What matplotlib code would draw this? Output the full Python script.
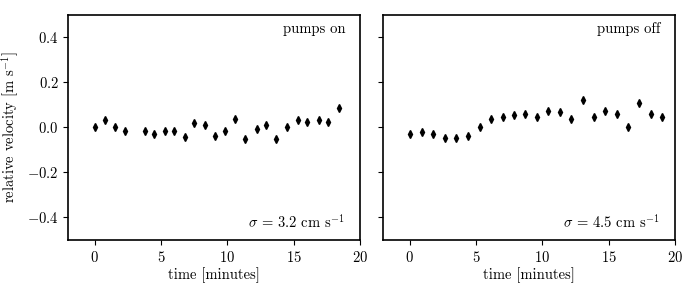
import matplotlib
matplotlib.use("Agg")
import matplotlib.pyplot as plt
import numpy as np

plt.rcParams['font.family'] = 'serif'
plt.rcParams['font.serif'] = ['cmr10']
plt.rcParams['mathtext.fontset'] = 'cm'
plt.rcParams['axes.formatter.use_mathtext'] = True
plt.rcParams['font.size'] = 10.5

# pumps on
t_on = [0.0, 0.76, 1.5, 2.27, 3.8, 4.5, 5.3, 6.0, 6.8, 7.5, 8.3, 9.1,
        9.8, 10.6, 11.3, 12.2, 12.9, 13.7, 14.5, 15.3, 16.0, 16.9, 17.6, 18.4]
v_on = [0.0, 0.033, 0.003, -0.016, -0.016, -0.031, -0.016, -0.018, -0.044,
        0.018, 0.010, -0.038, -0.015, 0.037, -0.053, -0.009, 0.009, -0.053,
        0.003, 0.033, 0.022, 0.033, 0.022, 0.087]

# pumps off
t_off = [0.0, 0.89, 1.78, 2.67, 3.5, 4.4, 5.27, 6.14, 7.0, 7.87, 8.7, 9.6,
         10.45, 11.3, 12.2, 13.05, 13.9, 14.75, 15.6, 16.45, 17.3, 18.2, 19.05]
v_off = [-0.028, -0.021, -0.030, -0.049, -0.046, -0.037, 0.0, 0.038, 0.046,
         0.053, 0.061, 0.044, 0.073, 0.067, 0.037, 0.120, 0.044, 0.073,
         0.061, 0.001, 0.110, 0.058, 0.044]

labels = ["pumps on", "pumps off"]
sigmas = [r"$\sigma$ = 3.2 cm s$^{-1}$", r"$\sigma$ = 4.5 cm s$^{-1}$"]

fig, axes = plt.subplots(1, 2, figsize=(6.9, 2.92), dpi=100, sharey=True)
plt.subplots_adjust(left=0.099, right=0.978, top=0.95, bottom=0.178, wspace=0.08)

for ax, t, v, lab, sig in zip(axes, [t_on, t_off], [v_on, v_off], labels, sigmas):
    ax.plot(t, v, 'd', color='black', markersize=4.2)
    ax.set_xlim(-2, 20)
    ax.set_ylim(-0.5, 0.5)
    ax.set_xticks([0, 5, 10, 15, 20])
    ax.set_yticks([-0.4, -0.2, 0.0, 0.2, 0.4])
    ax.set_xlabel("time [minutes]", labelpad=2)
    ax.text(0.95, 0.935, lab, transform=ax.transAxes, ha='right', va='center')
    ax.text(0.95, 0.08, sig, transform=ax.transAxes, ha='right', va='center')
    for s in ax.spines.values():
        s.set_linewidth(1.2)

axes[0].set_ylabel(r"relative velocity [m s$^{-1}$]")

plt.savefig("out.png")
